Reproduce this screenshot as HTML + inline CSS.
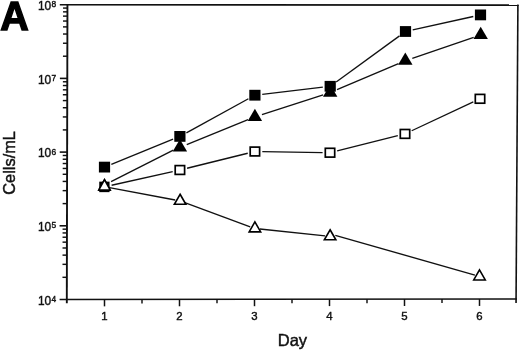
<!DOCTYPE html>
<html><head><meta charset="utf-8"><title>A</title>
<style>
html,body{margin:0;padding:0;background:#fff;}
body{width:520px;height:351px;overflow:hidden;font-family:"Liberation Sans",sans-serif;}
svg{display:block;will-change:transform;}
text{font-family:"Liberation Sans",sans-serif;fill:#111;stroke:#111;stroke-width:0.4px;}
</style></head><body>
<svg width="520" height="351" viewBox="0 0 520 351">
<rect x="0" y="0" width="520" height="351" fill="#ffffff"/>
<g fill="none" stroke="#111" stroke-width="1.6" stroke-linecap="butt">
<path d="M59.8 4.7 L518.7 5.1"/>
<path d="M517.9 4.4 L516.05 303.0"/>
<path d="M59.6 299.5 L516.9 299.0"/>
<path d="M67.45 4.0 L66.8 303.3" stroke-width="1.9"/>
</g>
<g fill="none" stroke="#111" stroke-width="1.45">
<path d="M62.46 277.31 H66.86"/>
<path d="M62.48 264.34 H66.88"/>
<path d="M62.50 255.13 H66.90"/>
<path d="M62.52 247.99 H66.92"/>
<path d="M62.53 242.15 H66.93"/>
<path d="M62.54 237.22 H66.94"/>
<path d="M62.55 232.94 H66.95"/>
<path d="M62.56 229.17 H66.96"/>
<path d="M62.62 203.61 H67.02"/>
<path d="M62.64 190.64 H67.04"/>
<path d="M62.66 181.43 H67.06"/>
<path d="M62.68 174.29 H67.08"/>
<path d="M62.69 168.45 H67.09"/>
<path d="M62.70 163.52 H67.10"/>
<path d="M62.71 159.24 H67.11"/>
<path d="M62.72 155.47 H67.12"/>
<path d="M62.78 129.91 H67.18"/>
<path d="M62.80 116.94 H67.20"/>
<path d="M62.82 107.73 H67.22"/>
<path d="M62.84 100.59 H67.24"/>
<path d="M62.85 94.75 H67.25"/>
<path d="M62.86 89.82 H67.26"/>
<path d="M62.87 85.54 H67.27"/>
<path d="M62.88 81.77 H67.28"/>
<path d="M62.94 56.21 H67.34"/>
<path d="M62.96 43.24 H67.36"/>
<path d="M62.98 34.03 H67.38"/>
<path d="M63.00 26.89 H67.40"/>
<path d="M63.01 21.05 H67.41"/>
<path d="M63.02 16.12 H67.42"/>
<path d="M63.03 11.84 H67.43"/>
<path d="M63.04 8.07 H67.44"/>
<path d="M59.57 225.80 H66.97" stroke-width="1.6"/>
<path d="M59.73 152.10 H67.13" stroke-width="1.6"/>
<path d="M59.89 78.40 H67.29" stroke-width="1.6"/>
<path d="M104.50 299.45 V306.35" stroke-width="1.5"/>
<path d="M179.50 299.37 V306.27" stroke-width="1.5"/>
<path d="M254.50 299.29 V306.19" stroke-width="1.5"/>
<path d="M329.50 299.20 V306.10" stroke-width="1.5"/>
<path d="M404.50 299.12 V306.02" stroke-width="1.5"/>
<path d="M479.50 299.04 V305.94" stroke-width="1.5"/>
<path d="M142.00 299.41 V303.41"/>
<path d="M217.00 299.33 V303.33"/>
<path d="M292.00 299.25 V303.25"/>
<path d="M367.00 299.16 V303.16"/>
<path d="M442.00 299.08 V303.08"/>
</g>
<text x="37.9" y="304.80" font-size="11.9">10</text>
<text x="51.5" y="301.90" font-size="8.4">4</text>
<text x="37.9" y="231.10" font-size="11.9">10</text>
<text x="51.5" y="228.20" font-size="8.4">5</text>
<text x="37.9" y="157.40" font-size="11.9">10</text>
<text x="51.5" y="154.50" font-size="8.4">6</text>
<text x="37.9" y="83.70" font-size="11.9">10</text>
<text x="51.5" y="80.80" font-size="8.4">7</text>
<text x="37.9" y="10.00" font-size="11.9">10</text>
<text x="51.5" y="7.10" font-size="8.4">8</text>
<text x="104.50" y="320.3" font-size="11.4" text-anchor="middle">1</text>
<text x="179.50" y="320.3" font-size="11.4" text-anchor="middle">2</text>
<text x="254.50" y="320.3" font-size="11.4" text-anchor="middle">3</text>
<text x="329.50" y="320.3" font-size="11.4" text-anchor="middle">4</text>
<text x="404.50" y="320.3" font-size="11.4" text-anchor="middle">5</text>
<text x="479.50" y="320.3" font-size="11.4" text-anchor="middle">6</text>
<text x="292.4" y="345.8" font-size="16.5" text-anchor="middle" style="stroke-width:0.45px">Day</text>
<text transform="translate(14.9 162.9) rotate(-90)" font-size="16.4" text-anchor="middle" style="stroke-width:0.45px">Cells/mL</text>
<text x="0.2" y="29.6" font-size="39.8" font-weight="bold" style="fill:#000;stroke:#000;stroke-width:1.4px" textLength="28.5" lengthAdjust="spacingAndGlyphs">A</text>
<g fill="none" stroke="#111" stroke-width="1.35" stroke-linecap="butt">
<path d="M111.35 164.31 L173.05 139.19"/>
<path d="M186.39 132.84 L248.41 98.76"/>
<path d="M262.25 94.33 L322.85 87.17"/>
<path d="M336.18 81.95 L399.52 35.85"/>
<path d="M412.73 29.90 L473.27 16.50"/>
<path d="M111.62 185.28 L172.68 171.62"/>
<path d="M187.08 168.23 L247.72 153.27"/>
<path d="M262.30 151.62 L322.60 152.58"/>
<path d="M337.18 150.90 L397.82 135.70"/>
<path d="M411.70 130.76 L473.30 101.94"/>
<path d="M111.10 181.65 L173.30 150.05"/>
<path d="M186.75 144.70 L248.05 119.70"/>
<path d="M261.94 114.63 L323.16 94.87"/>
<path d="M337.01 89.71 L398.49 63.59"/>
<path d="M412.30 58.31 L473.70 37.39"/>
<path d="M109.41 187.62 L175.19 199.98"/>
<path d="M184.79 202.63 L250.21 226.77"/>
<path d="M259.87 229.02 L325.13 235.88"/>
<path d="M335.3 235.4 L474.9 275.05"/>
</g>
<path d="M104.50 178.27 L111.00 189.87 L98.00 189.87 Z" fill="#000"/>
<path d="M179.90 139.37 L187.10 151.57 L172.70 151.57 Z" fill="#000"/>
<path d="M254.90 108.77 L262.10 120.97 L247.70 120.97 Z" fill="#000"/>
<path d="M330.20 84.47 L337.40 96.67 L323.00 96.67 Z" fill="#000"/>
<path d="M405.30 52.57 L412.50 64.77 L398.10 64.77 Z" fill="#000"/>
<path d="M480.70 26.87 L487.90 39.07 L473.50 39.07 Z" fill="#000"/>
<rect x="98.90" y="161.70" width="11.2" height="10.8" fill="#000"/>
<rect x="174.30" y="131.00" width="11.2" height="10.8" fill="#000"/>
<rect x="249.30" y="89.80" width="11.2" height="10.8" fill="#000"/>
<rect x="324.60" y="80.90" width="11.2" height="10.8" fill="#000"/>
<rect x="399.90" y="26.10" width="11.2" height="10.8" fill="#000"/>
<rect x="474.90" y="9.50" width="11.2" height="10.8" fill="#000"/>
<rect x="100.10" y="182.50" width="8.6" height="8.8" fill="#000" stroke="#000" stroke-width="1.7"/>
<rect x="175.20" y="165.60" width="9.4" height="8.8" fill="#fff" stroke="#000" stroke-width="1.7"/>
<rect x="250.20" y="147.10" width="9.4" height="8.8" fill="#fff" stroke="#000" stroke-width="1.7"/>
<rect x="325.30" y="148.30" width="9.4" height="8.8" fill="#fff" stroke="#000" stroke-width="1.7"/>
<rect x="400.30" y="129.50" width="9.4" height="8.8" fill="#fff" stroke="#000" stroke-width="1.7"/>
<rect x="475.30" y="94.40" width="9.4" height="8.8" fill="#fff" stroke="#000" stroke-width="1.7"/>
<path d="M104.50 179.70 L110.25 190.10 L98.75 190.10 Z" fill="#fff" stroke="#000" stroke-width="1.6" stroke-linejoin="miter"/>
<path d="M180.10 194.23 L185.85 204.23 L174.35 204.23 Z" fill="#fff" stroke="#000" stroke-width="1.6" stroke-linejoin="miter"/>
<path d="M254.90 221.83 L260.65 231.83 L249.15 231.83 Z" fill="#fff" stroke="#000" stroke-width="1.6" stroke-linejoin="miter"/>
<path d="M330.10 229.73 L335.85 239.73 L324.35 239.73 Z" fill="#fff" stroke="#000" stroke-width="1.6" stroke-linejoin="miter"/>
<path d="M479.50 269.93 L485.25 279.93 L473.75 279.93 Z" fill="#fff" stroke="#000" stroke-width="1.6" stroke-linejoin="miter"/>
</svg></body></html>
